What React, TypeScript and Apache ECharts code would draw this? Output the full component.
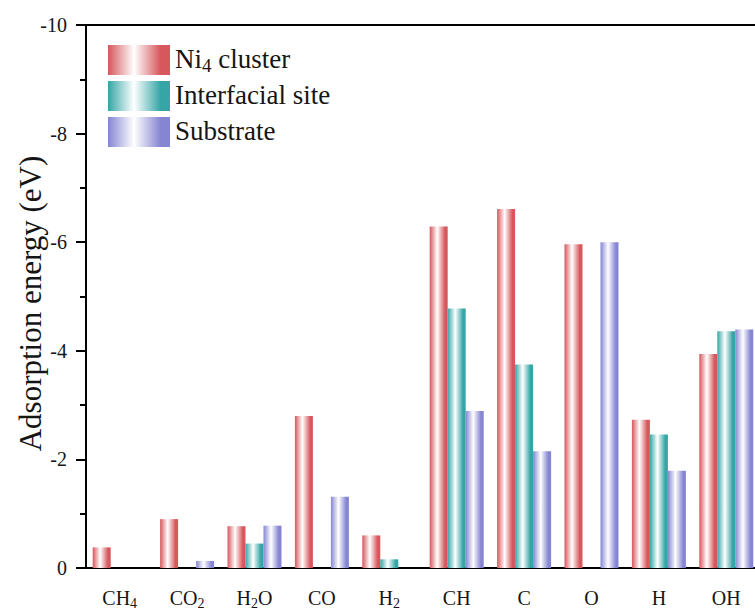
import React, { useEffect, useRef } from "react";
import * as echarts from "echarts";

// Adsorbates on the x axis (digits are drawn as subscripts)
const categories = ["CH4", "CO2", "H2O", "CO", "H2", "CH", "C", "O", "H", "OH"];

// Adsorption energies (eV); null where no value was computed
const ni4Cluster = [-0.38, -0.9, -0.77, -2.8, -0.6, -6.29, -6.61, -5.96, -2.73, -3.94];
const interfacialSite = [null, null, -0.45, null, -0.16, -4.78, -3.75, null, -2.46, -4.36];
const substrate = [null, -0.13, -0.78, -1.31, null, -2.89, -2.15, -6.0, -1.79, -4.39];

const seriesNames = ["Ni4 cluster", "Interfacial site", "Substrate"];
const seriesColors = ["#d6575c", "#35a5a6", "#8585d3"];

const FONT = "Liberation Serif";
const INK = "#151515";

// Cylinder-like shading: colour at the edges, white highlight left of centre
const shade = (c: string) =>
  new echarts.graphic.LinearGradient(0, 0, 1, 0, [
    { offset: 0, color: c },
    { offset: 0.42, color: "#ffffff" },
    { offset: 0.85, color: c },
    { offset: 1, color: c },
  ]);

// "H2O" -> "{m|H}{s|2}{m|O}"
const withSubscripts = (s: string) =>
  s.replace(/(\d+)|([^\d]+)/g, (_m, d, t) => (d ? `{s|${d}}` : `{m|${t}}`));

export default function App() {
  const ref = useRef<HTMLDivElement>(null);

  useEffect(() => {
    if (!ref.current) return;
    const chart = echarts.init(ref.current, undefined, { renderer: "svg" });

    const data = [ni4Cluster, interfacialSite, substrate];

    chart.setOption({
      animation: false,
      backgroundColor: "#ffffff",
      textStyle: { fontFamily: FONT },
      grid: {
        left: 86,
        top: 25,
        width: 674,
        height: 543,
        containLabel: false,
        outerBoundsMode: "none",
        show: true,
        borderColor: "#000",
        borderWidth: 2,
        backgroundColor: "transparent",
      },
      legend: {
        left: 103,
        top: 36,
        orient: "vertical",
        icon: "rect",
        itemWidth: 62,
        itemHeight: 30,
        itemGap: 6,
        data: seriesNames,
        formatter: (name: string) =>
          name === "Ni4 cluster" ? "{m|Ni}{s|4}{m| cluster}" : `{m|${name}}`,
        textStyle: {
          fontFamily: FONT,
          color: INK,
          rich: {
            m: { fontFamily: FONT, fontSize: 27, color: INK, lineHeight: 30, verticalAlign: "top" },
            s: {
              fontFamily: FONT,
              fontSize: 19,
              color: INK,
              lineHeight: 19,
              padding: [15, 0, 0, 0],
              verticalAlign: "bottom",
            },
          },
        },
      },
      xAxis: [
        {
          type: "category",
          position: "bottom",
          data: categories,
          axisLine: { lineStyle: { color: "#000", width: 2 } },
          axisTick: {
            alignWithLabel: true,
            interval: 0,
            length: 10,
            lineStyle: { color: "#000", width: 2 },
          },
          axisLabel: {
            interval: 0,
            margin: 20,
            fontFamily: FONT,
            formatter: (v: string) => withSubscripts(v),
            rich: {
              m: { fontFamily: FONT, fontSize: 20, color: INK, lineHeight: 22, verticalAlign: "top" },
              s: {
                fontFamily: FONT,
                fontSize: 14,
                color: INK,
                lineHeight: 14,
                padding: [14, 0, 0, 0],
                verticalAlign: "bottom",
              },
            },
          },
        },
        {
          // short ticks on the category boundaries
          type: "category",
          position: "bottom",
          data: categories,
          axisLine: { show: false },
          axisTick: { interval: 0, length: 5, lineStyle: { color: "#000", width: 2 } },
          axisLabel: { show: false },
        },
      ],
      yAxis: {
        type: "value",
        min: -10,
        max: 0,
        interval: 2,
        inverse: true,
        name: "Adsorption energy (eV)",
        nameLocation: "middle",
        nameGap: 40,
        nameMoveOverlap: false,
        nameTextStyle: { fontFamily: FONT, fontSize: 31, color: INK, padding: [0, 14, 0, 0] },
        axisLine: { show: true, lineStyle: { color: "#000", width: 2 } },
        axisTick: { show: true, length: 10, lineStyle: { color: "#000", width: 2 } },
        minorTick: { show: true, splitNumber: 2, length: 6, lineStyle: { color: "#000", width: 2 } },
        splitLine: { show: false },
        axisLabel: { margin: 19, fontFamily: FONT, fontSize: 20, color: INK },
      },
      series: seriesNames.map((name, i) => ({
        name,
        type: "bar",
        xAxisIndex: 0,
        barWidth: 18,
        barGap: "0%",
        data: data[i],
        itemStyle: { color: shade(seriesColors[i]) },
      })),
    });

    return () => chart.dispose();
  }, []);

  return (
    <div
      ref={ref}
      style={{ position: "absolute", left: 0, top: 0, width: 755, height: 612, background: "#fff" }}
    />
  );
}
